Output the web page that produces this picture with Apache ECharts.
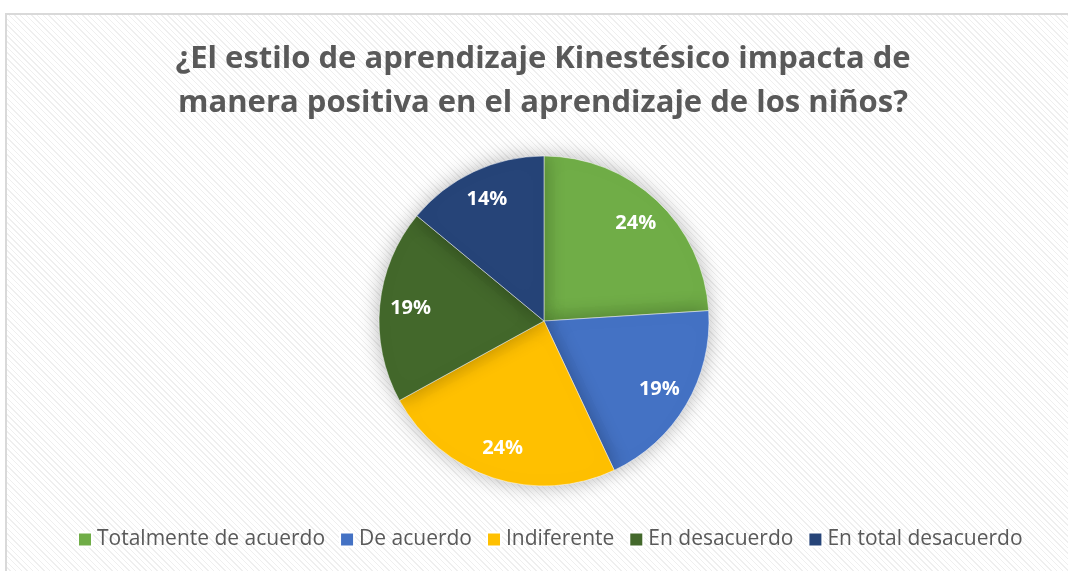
<!DOCTYPE html>
<html>
<head>
<meta charset="utf-8">
<script src="https://cdn.jsdelivr.net/npm/echarts@6/dist/echarts.min.js"></script>
<style>
  html, body { margin: 0; padding: 0; background: #fff; overflow: hidden; }
  #frame {
    position: absolute; left: 5px; top: 13px; width: 1080px; height: 580px;
    border: 2px solid #d9d9d9;
    background: repeating-linear-gradient(45deg, #ffffff 0px, #ffffff 3px, #efefef 3px, #efefef 4px);
  }
  #chart { position: absolute; left: 0; top: 0; width: 1086px; height: 571px; }
</style>
</head>
<body>
<div id="frame"></div>
<div id="chart"></div>
<script>
// datos de la encuesta
const titleText = '¿El estilo de aprendizaje Kinestésico impacta de\nmanera positiva en el aprendizaje de los niños?';
const categories = ['Totalmente de acuerdo', 'De acuerdo', 'Indiferente', 'En desacuerdo', 'En total desacuerdo'];
const values = [24, 19, 24, 19, 14];
const colors = ['#70AD47', '#4472C4', '#FFC000', '#43682B', '#264478'];

const pieData = categories.map((c, i) => ({ name: c, value: values[i] }));

const chart = echarts.init(document.getElementById('chart'));
const option = {
    color: colors,
    animation: false,
    title: {
        text: titleText,
        left: 'center',
        top: 32,
        textStyle: {
            fontFamily: 'Open Sans',
            fontWeight: 'bold',
            fontSize: 31,
            lineHeight: 44,
            color: '#595959'
        }
    },
    legend: {
        bottom: 16,
        left: 72,
        itemWidth: 14,
        itemHeight: 14,
        itemGap: 14,
        icon: 'rect',
        textStyle: { fontFamily: 'Open Sans', fontSize: 21, color: '#595959' },
        data: categories
    },
    series: [
        {
            name: 'pie',
            type: 'pie',
            center: [544, 321],
            radius: [0, 165],
            startAngle: 90,
            clockwise: true,
            label: { show: false },
            labelLine: { show: false },
            itemStyle: {
                borderColor: '#ffffff',
                borderWidth: 0.5,
                shadowBlur: 20,
                shadowColor: 'rgba(0,0,0,0.3)'
            },
            emphasis: { disabled: true },
            data: pieData
        },
        {
            // capa solo para las etiquetas
            name: 'labels',
            type: 'pie',
            center: [544, 321],
            radius: [97, 165],
            startAngle: 90,
            silent: true,
            itemStyle: { color: 'transparent' },
            label: {
                show: true,
                position: 'inside',
                formatter: '{c}%',
                color: '#fff',
                fontFamily: 'Open Sans',
                fontWeight: 'bold',
                fontSize: 20
            },
            labelLine: { show: false },
            emphasis: { disabled: true },
            data: pieData
        }
    ]
};
chart.setOption(option);
</script>
</body>
</html>
